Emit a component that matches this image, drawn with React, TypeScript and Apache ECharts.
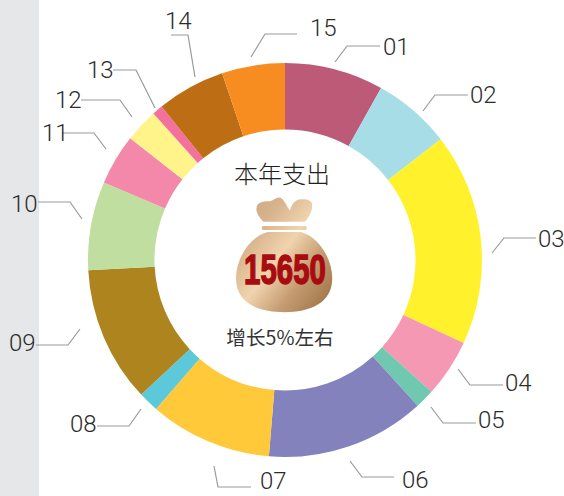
import React, { useEffect, useRef } from "react";
import * as echarts from "echarts";

const categories = ["01","02","03","04","05","06","07","08","09","10","11","12","13","14","15"];
const values = [1269,1000,2726,743,248,2043,1574,261,1743,1139,652,430,135,878,809];
const colors = ["#bc5a78","#a6dde6","#fff22d","#f598b4","#70c8b0","#8382bd","#ffc93a","#5cc9da","#ad841e","#c0dea0","#f488aa","#fef48a","#f4719e","#bd6e15","#f78c21"];
const totalLabel = "15650";
const titleText = "本年支出";
const growthText = "增长5%左右";

// leader-line placement: [label x, label y, line points]
const leaders: [number, number, number[][]][] = [
  [383,47,[[335,62],[347,46],[380,46]]],
  [470,95,[[423,111],[435,95],[468,95]]],
  [538,239,[[492,253],[504,238],[536,238]]],
  [505,383,[[458,369],[470,385],[503,385]]],
  [478,420,[[431,407],[443,423],[476,423]]],
  [402,480,[[350,461],[362,477],[394,477]]],
  [260,481,[[214,466],[218,487],[251,487]]],
  [70,424,[[141,409],[129,426],[97,426]]],
  [9,343,[[80,329],[68,345],[36,345]]],
  [11,204,[[82,219],[70,202],[38,202]]],
  [42,133,[[106,149],[94,133],[62,133]]],
  [55,100,[[132,117],[120,100],[81,100]]],
  [87,70,[[155,108],[136,70],[113,70]]],
  [165,21,[[195,77],[188,35],[171,35]]],
  [310,28,[[251,57],[265,34],[297,34]]],
];

const bagPath =
  "M85 95 C70 78 60 62 66 48 C72 34 92 34 106 34 C116 30 126 20 136 23 C148 27 156 50 165 62 C170 45 178 30 196 28 C214 26 232 30 232 46 C232 66 222 82 210 95 Z " +
  "M86 108 L210 108 Q216 108 216 114 Q216 120 210 120 L86 120 Q80 120 80 114 Q80 108 86 108 Z " +
  "M98 126 L198 126 C250 140 292 205 292 265 C292 340 225 367 148 367 C70 367 3 340 3 265 C3 205 45 140 98 126 Z";
echarts.graphic.registerShape("moneyBag", echarts.graphic.extendPath(bagPath, {}));

export default function App() {
  const ref = useRef<HTMLDivElement>(null);
  useEffect(() => {
    document.body.style.margin = "0";
    const chart = echarts.init(ref.current!, undefined, { renderer: "svg" });
    chart.setOption({
      animation: false,
      backgroundColor: "#ffffff",
      graphic: [
        { type: "rect", shape: { x: 0, y: 0, width: 39, height: 496 }, style: { fill: "#e6e7e9" }, silent: true },
        {
          type: "moneyBag", x: 235, y: 190, scaleX: 1 / 3, scaleY: 1 / 3, silent: true,
          style: {
            fill: new echarts.graphic.LinearGradient(0, 0.05, 1, 0.95, [
              { offset: 0, color: "#cba580" },
              { offset: 0.25, color: "#d8b48e" },
              { offset: 0.48, color: "#f0d4ae" },
              { offset: 0.7, color: "#c79e74" },
              { offset: 0.92, color: "#a57b4f" },
              { offset: 1, color: "#b58a5e" },
            ]),
          },
        },
        {
          type: "text", x: 285, y: 270, scaleX: 0.7, silent: true,
          style: {
            text: totalLabel, fill: "#a80c10", stroke: "#a80c10", lineWidth: 1.5,
            font: "bold 42px 'Liberation Sans', sans-serif",
            align: "center", verticalAlign: "middle",
          },
        },
        {
          type: "text", x: 282, y: 172, silent: true,
          style: { text: titleText, fill: "#231f20", font: "300 24px 'Noto Sans CJK SC', sans-serif", align: "center", verticalAlign: "middle" },
        },
        {
          type: "text", x: 280, y: 336, silent: true,
          style: { text: growthText, fill: "#333333", font: "400 19.6px 'Noto Sans CJK SC', sans-serif", align: "center", verticalAlign: "middle" },
        },
      ],
      series: [
        {
          type: "pie",
          center: [285, 260],
          radius: [130.5, 197],
          startAngle: 90,
          clockwise: true,
          avoidLabelOverlap: false,
          silent: true,
          data: categories.map((name, i) => ({ name, value: values[i], itemStyle: { color: colors[i] } })),
          label: {
            show: true, position: "outside", formatter: "{b}",
            fontFamily: "Roboto", fontWeight: 300, fontSize: 24, lineHeight: 16, color: "#2b2b2b",
          },
          labelLine: { show: true, smooth: false, lineStyle: { color: "#9a9a9a", width: 1.2 } },
          labelLayout: (p: any) => {
            const l = leaders[p.dataIndex];
            return { x: l[0], y: l[1], align: "left", verticalAlign: "middle", labelLinePoints: l[2] };
          },
        },
      ],
    });
    return () => chart.dispose();
  }, []);
  return <div ref={ref} style={{ width: 564, height: 496 }} />;
}
